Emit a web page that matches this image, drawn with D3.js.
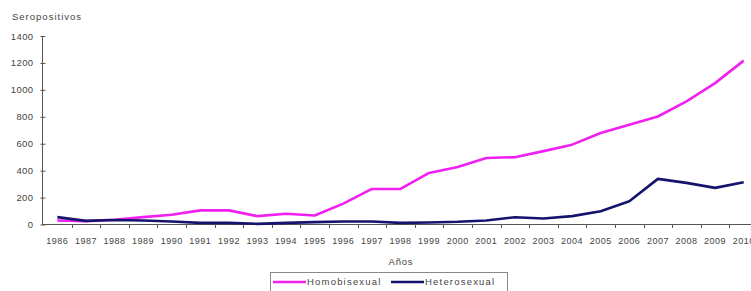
<!DOCTYPE html>
<html>
<head>
<meta charset="utf-8">
<script src="https://cdnjs.cloudflare.com/ajax/libs/d3/7.8.5/d3.min.js"></script>
<style>
    body { margin: 0; background: #fff; }
    svg { display: block; font-family: "Liberation Sans", Arial, sans-serif; }
</style>
</head>
<body>
<div class="chart"></div>
<script>
var years = [1986, 1987, 1988, 1989, 1990, 1991, 1992, 1993, 1994, 1995, 1996, 1997,
    1998, 1999, 2000, 2001, 2002, 2003, 2004, 2005, 2006, 2007, 2008, 2009, 2010];
var homobisexual = [30, 25, 35, 55, 72, 105, 105, 62, 80, 67, 155, 264,
    264, 383, 427, 494, 500, 545, 593, 680, 741, 802, 914, 1050, 1217];
var heterosexual = [55, 27, 33, 30, 22, 12, 12, 5, 12, 18, 22, 22,
    12, 15, 20, 30, 54, 44, 62, 99, 173, 339, 309, 272, 314];
var yTicks = [0, 200, 400, 600, 800, 1000, 1200, 1400];
var seriesNames = ["Homobisexual", "Heterosexual"];
var seriesColors = ["#f020f0", "#14146e"];

var width = 751, height = 291;
var svg = d3.select(".chart").append("svg")
    .attr("width", width)
    .attr("height", height);

var x = d3.scaleBand()
    .domain(years)
    .range([43, 43 + 25 * 28.6]);

var y = d3.scaleLinear()
    .domain([0, 1400])
    .range([224.5, 36]);

// y axis
var yAxis = svg.append("g")
    .attr("transform", "translate(42.5,0)")
    .call(d3.axisLeft(y).tickValues(yTicks).tickSize(3).tickPadding(6)
        .tickFormat(function (d) { return d; }));
yAxis.selectAll("text").style("font-size", "9.5px").style("letter-spacing", "0.4px").attr("fill", "#444");
yAxis.selectAll("line").attr("stroke", "#555").attr("x2", 3).attr("x1", -2);
yAxis.select(".domain").attr("stroke", "#555").attr("d", "M0,36V224.5");

// x axis (ticks between categories)
var xg = svg.append("g")
    .attr("transform", "translate(0,224.5)");
xg.append("line")
    .attr("x1", 42).attr("x2", width)
    .attr("stroke", "#555");
xg.selectAll(".xtick")
    .data(years.slice(1))
    .enter().append("line")
    .attr("class", "xtick")
    .attr("x1", function (d) { return Math.round(x(d)) + 0.5; })
    .attr("x2", function (d) { return Math.round(x(d)) + 0.5; })
    .attr("y1", 0).attr("y2", 3.5)
    .attr("stroke", "#555");
xg.selectAll(".xlabel")
    .data(years)
    .enter().append("text")
    .attr("class", "xlabel")
    .attr("x", function (d) { return x(d) + x.bandwidth() / 2; })
    .attr("y", 19)
    .attr("text-anchor", "middle")
    .attr("fill", "#444")
    .style("font-size", "9px")
    .style("letter-spacing", "0.5px")
    .text(function (d) { return d; });

// titles
svg.append("text")
    .attr("x", 12).attr("y", 20)
    .attr("fill", "#444")
    .style("font-size", "9.5px")
    .style("letter-spacing", "1px")
    .text("Seropositivos");
svg.append("text")
    .attr("x", 401).attr("y", 265)
    .attr("text-anchor", "middle")
    .attr("fill", "#444")
    .style("font-size", "9.5px")
    .style("letter-spacing", "0.8px")
    .text("Años");

// lines
var line = d3.line()
    .x(function (d, i) { return x(years[i]) + x.bandwidth() / 2; })
    .y(function (d) { return y(d); });

[homobisexual, heterosexual].forEach(function (s, i) {
    svg.append("path")
        .datum(s)
        .attr("fill", "none")
        .attr("stroke", seriesColors[i])
        .attr("stroke-width", 2.6)
        .attr("stroke-linejoin", "round")
        .attr("d", line);
});

// legend
svg.append("rect")
    .attr("x", 270.5).attr("y", 272.5)
    .attr("width", 237).attr("height", 24)
    .attr("fill", "#fff")
    .attr("stroke", "#888");

var legendX = [273, 391];
var legend = svg.selectAll(".legend")
    .data(seriesNames)
    .enter().append("g")
    .attr("class", "legend")
    .attr("transform", function (d, i) { return "translate(" + legendX[i] + ",282)"; });
legend.append("line")
    .attr("x1", 0).attr("x2", 33)
    .attr("stroke", function (d, i) { return seriesColors[i]; })
    .attr("stroke-width", 2.6);
legend.append("text")
    .attr("x", 34).attr("y", 0)
    .attr("dy", ".35em")
    .attr("fill", "#444")
    .style("font-size", "9.5px")
    .style("letter-spacing", "1.2px")
    .text(function (d) { return d; });
</script>
</body>
</html>
